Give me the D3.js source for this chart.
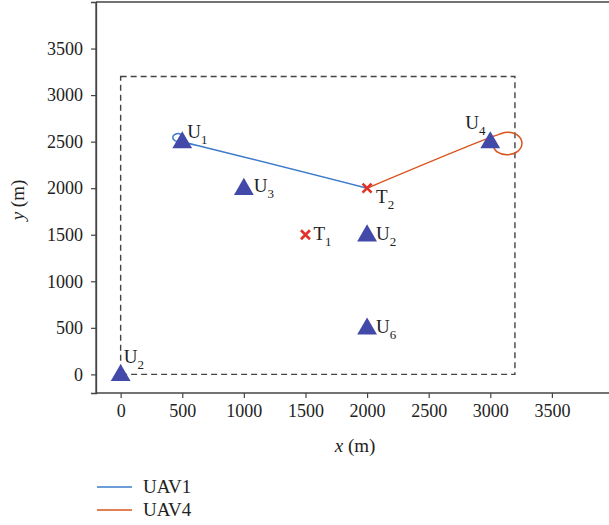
<!DOCTYPE html>
<html><head><meta charset="utf-8">
<script src="https://cdn.jsdelivr.net/npm/d3@7"></script>
<style>
body{margin:0;background:#fff;}
</style></head>
<body><svg id="c" width="609" height="525"></svg>
<script>
// ---- data ----
const xTicks = [0,500,1000,1500,2000,2500,3000,3500];
const yTicks = [0,500,1000,1500,2000,2500,3000,3500];
const userIds = ["1","3","2","6","2","4"];
const userX = [500,1000,2000,2000,0,3000];
const userY = [2500,2000,1500,500,0,2500];
const targetIds = ["1","2"];
const targetX = [1500,2000];
const targetY = [1500,2000];
const areaBox = [0,0,3200,3200];
const uav1Path = [[500,2500],[512,2540],[470,2588],[425,2558],[438,2512],[500,2497],[2000,2000]];
const uav4Path = [[2000,2000],[3070,2578],[3140,2600],[3225,2565],[3257,2480],[3222,2395],[3138,2360],[3055,2390],[3025,2440]];
const seriesNames = ["UAV1","UAV4"];

// ---- layout ----
const FONT = "'Liberation Serif', 'Times New Roman', serif";
const svg = d3.select("#c");
const x = d3.scaleLinear().domain([-200,4000]).range([96,613.5]);
const y = d3.scaleLinear().domain([-200,4000]).range([393,2]);
const axisColor = "#444";

const g = svg.append("g");
g.append("line").attr("x1",96).attr("x2",96).attr("y1",2).attr("y2",393).attr("stroke",axisColor).attr("stroke-width",1.3);
g.append("line").attr("x1",96).attr("x2",609).attr("y1",2).attr("y2",2).attr("stroke",axisColor).attr("stroke-width",1.3);

const xAxis = svg.append("g").attr("transform","translate(0,393)")
  .call(d3.axisBottom(x).tickValues(xTicks).tickFormat(d3.format("d")).tickSizeOuter(0).tickSize(5).tickPadding(6));
const yAxis = svg.append("g").attr("transform","translate(96,0)")
  .call(d3.axisLeft(y).tickValues(yTicks).tickFormat(d3.format("d")).tickSizeOuter(0).tickSize(5).tickPadding(8));
[xAxis,yAxis].forEach(a=>{
  a.attr("font-family",null).attr("font-size",null);
  a.selectAll("path.domain").attr("stroke",axisColor).attr("stroke-width",1.3);
  a.selectAll(".tick line").attr("stroke",axisColor).attr("stroke-width",1.2);
  a.selectAll(".tick text").style("font-size","18px").style("font-family",FONT).attr("fill","#222");
});
xAxis.select("path.domain").attr("d","M96,0H609");

// axis titles
const xt = svg.append("text").attr("x",355).attr("y",452).attr("text-anchor","middle").style("font-size","19px").style("font-family",FONT).attr("fill","#222");
xt.append("tspan").attr("font-style","italic").text("x");
xt.append("tspan").text(" (m)");
const yt = svg.append("text").attr("transform","translate(24,200) rotate(-90)").attr("text-anchor","middle").style("font-size","19px").style("font-family",FONT).attr("fill","#222");
yt.append("tspan").attr("font-style","italic").text("y");
yt.append("tspan").text(" (m)");

// dashed area
svg.append("rect").attr("x",x(areaBox[0])).attr("y",y(areaBox[3]))
  .attr("width",x(areaBox[2])-x(areaBox[0])).attr("height",y(areaBox[1])-y(areaBox[3]))
  .attr("fill","none").attr("stroke",axisColor).attr("stroke-width",1.4).attr("stroke-dasharray","6,4");

// paths
const line = d3.line().x(d=>x(d[0])).y(d=>y(d[1])).curve(d3.curveCatmullRom.alpha(0.5));
svg.append("path").attr("d",line(uav1Path)).attr("fill","none").attr("stroke","#3d7cc9").attr("stroke-width",1.5);
svg.append("path").attr("d",line(uav4Path)).attr("fill","none").attr("stroke","#d9541e").attr("stroke-width",1.5);

// users
const tri = d3.symbol().type(d3.symbolTriangle).size(170);
const userLabelOff = [[5,-4],[10,4],[9,5],[9,5],[3,-11],[-25,-13]];
userIds.forEach((id,i)=>{
  svg.append("path").attr("d",tri()).attr("transform",`translate(${x(userX[i])},${y(userY[i])+1})`).attr("fill","#4249a8");
  const t = svg.append("text").attr("x",x(userX[i])+userLabelOff[i][0]).attr("y",y(userY[i])+userLabelOff[i][1]).style("font-size","19px").style("font-family",FONT).attr("fill","#222");
  t.append("tspan").text("U");
  t.append("tspan").style("font-size","13px").attr("dy",6).text(id);
});

// targets
const targetLabelOff = [[8,5],[9,15]];
targetIds.forEach((id,i)=>{
  const cx = x(targetX[i]), cy = y(targetY[i]), s = 4.5;
  svg.append("path").attr("d",`M${cx-s},${cy-s}L${cx+s},${cy+s}M${cx-s},${cy+s}L${cx+s},${cy-s}`)
    .attr("stroke","#e03228").attr("stroke-width",2.6).attr("fill","none");
  const t = svg.append("text").attr("x",cx+targetLabelOff[i][0]).attr("y",cy+targetLabelOff[i][1]).style("font-size","19px").style("font-family",FONT).attr("fill","#222");
  t.append("tspan").text("T");
  t.append("tspan").style("font-size","13px").attr("dy",6).text(id);
});

// legend
const legColors = ["#3d7cc9","#d9541e"];
seriesNames.forEach((n,i)=>{
  const ly = 487 + i*23;
  svg.append("line").attr("x1",97).attr("x2",132).attr("y1",ly).attr("y2",ly).attr("stroke",legColors[i]).attr("stroke-width",1.5);
  svg.append("text").attr("x",143).attr("y",ly+6).style("font-size","19px").style("font-family",FONT).attr("fill","#222").text(n);
});
</script></body></html>
